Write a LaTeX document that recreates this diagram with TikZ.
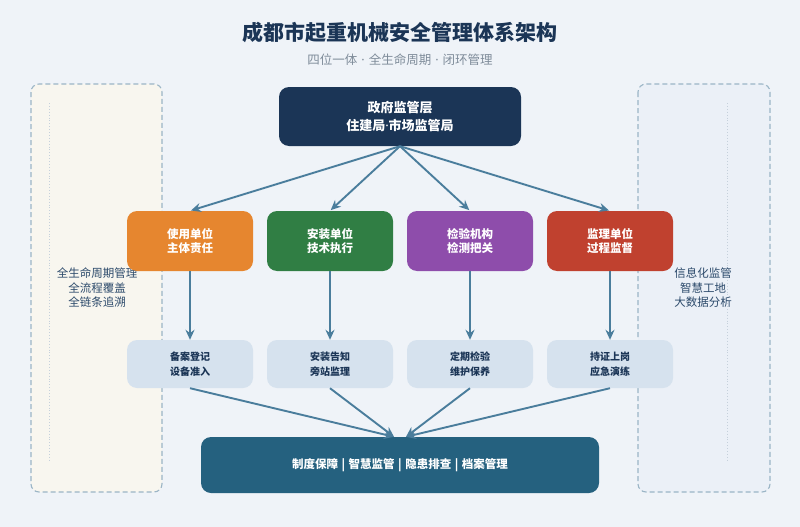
\documentclass[tikz,border=0pt]{standalone}
\usepackage{fontspec}
\setmainfont{Noto Sans CJK SC}
\newfontfamily\latinfont{Noto Sans}
\usetikzlibrary{arrows.meta,calc}
\definecolor{bg}{HTML}{EFF3F8}
\definecolor{navy}{HTML}{1B3556}
\definecolor{subgray}{HTML}{7F8C9A}
\definecolor{cream}{HTML}{F8F6EF}
\definecolor{paleblue}{HTML}{EBF0F7}
\definecolor{panelline}{HTML}{9BB5C6}
\definecolor{dotline}{HTML}{C5D0DB}
\definecolor{sidetext}{HTML}{2C4A6B}
\definecolor{orangec}{HTML}{E6862F}
\definecolor{greenc}{HTML}{307E44}
\definecolor{purplec}{HTML}{8E4DAB}
\definecolor{redc}{HTML}{C0412F}
\definecolor{lightbox}{HTML}{D6E2EE}
\definecolor{bottomc}{HTML}{25617F}
\definecolor{arrowc}{HTML}{4A7D9C}
\newcommand{\ndot}{{\latinfont\bfseries ·}}
\newcommand{\sdot}{\hspace{4pt}{\latinfont ·}\hspace{4pt}}
\newcommand{\vbar}{\hspace{3.5pt}|\hspace{3.5pt}}
\tikzset{
  panel/.style={draw=panelline, line width=1.1pt, dash pattern=on 5pt off 3pt, rounded corners=8pt},
  dotv/.style={draw=dotline, line width=0.9pt, dotted},
  sidelabel/.style={text=sidetext, font=\fontsize{11.5}{14.5}\selectfont, align=center},
  topbox/.style={fill=navy, rounded corners=10pt, minimum width=242pt, minimum height=59pt, text=white, font=\bfseries\fontsize{13}{18}\selectfont, align=center},
  rolebox/.style={rounded corners=10pt, minimum width=126pt, minimum height=60pt, text=white, font=\bfseries\fontsize{11.5}{14}\selectfont, align=center},
  taskbox/.style={fill=lightbox, rounded corners=10pt, minimum width=126pt, minimum height=48pt, text=navy, font=\bfseries\fontsize{10}{15}\selectfont, align=center},
  basebox/.style={fill=bottomc, rounded corners=10pt, minimum width=398pt, minimum height=56pt, text=white, font=\bfseries\fontsize{11.5}{14}\selectfont, align=center},
  conn/.style={draw=arrowc, line width=1.9pt, -{Stealth[length=10pt,width=9pt]}}
}
\begin{document}
\begin{tikzpicture}[x=1pt,y=-1pt]
\fill[bg] (0,0) rectangle (800,527);
\useasboundingbox (0,0) rectangle (800,527);

% title
\node[text=navy, font=\bfseries\fontsize{21}{24}\selectfont] (title) at (400,33) {成都市起重机械安全管理体系架构};
\node[text=subgray, font=\fontsize{12.5}{15}\selectfont] (subtitle) at (400,60) {四位一体\sdot 全生命周期\sdot 闭环管理};

% side panels
\draw[panel, fill=cream] (31,84) rectangle (162,492);
\draw[panel, fill=paleblue] (638,84) rectangle (770,492);
\draw[dotv] (49,103) -- (49,462);
\draw[dotv] (727,103) -- (727,462);
\node[sidelabel] (leftlabel) at (97,288) {全生命周期管理\\全流程覆盖\\全链条追溯};
\node[sidelabel] (rightlabel) at (703,288) {信息化监管\\智慧工地\\大数据分析};

% top
\node[topbox] (gov) at (400,116.5) {政府监管层\\住建局\ndot 市场监管局};

% roles
\node[rolebox, fill=orangec] (use) at (190,241) {使用单位\\主体责任};
\node[rolebox, fill=greenc] (inst) at (330,241) {安装单位\\技术执行};
\node[rolebox, fill=purplec] (insp) at (470,241) {检验机构\\检测把关};
\node[rolebox, fill=redc] (supv) at (610,241) {监理单位\\过程监督};

% tasks
\node[taskbox] (t1) at (190,364) {备案登记\\设备准入};
\node[taskbox] (t2) at (330,364) {安装告知\\旁站监理};
\node[taskbox] (t3) at (470,364) {定期检验\\维护保养};
\node[taskbox] (t4) at (610,364) {持证上岗\\应急演练};

% bottom
\node[basebox] (base) at (400,465) {制度保障\vbar 智慧监管\vbar 隐患排查\vbar 档案管理};

% connectors
\foreach \n in {use,inst,insp,supv}{
  \draw[conn, shorten >=1pt] (gov.south) -- (\n.north);
}
\draw[conn] (use.south) -- (t1.north);
\draw[conn] (inst.south) -- (t2.north);
\draw[conn] (insp.south) -- (t3.north);
\draw[conn] (supv.south) -- (t4.north);

\coordinate (bl) at ($(base.north)+(-6,0)$);
\coordinate (br) at ($(base.north)+(6,0)$);
\draw[conn] (t1.south) -- (bl);
\draw[conn] (t2.south) -- (bl);
\draw[conn] (t3.south) -- (br);
\draw[conn] (t4.south) -- (br);
\end{tikzpicture}
\end{document}
